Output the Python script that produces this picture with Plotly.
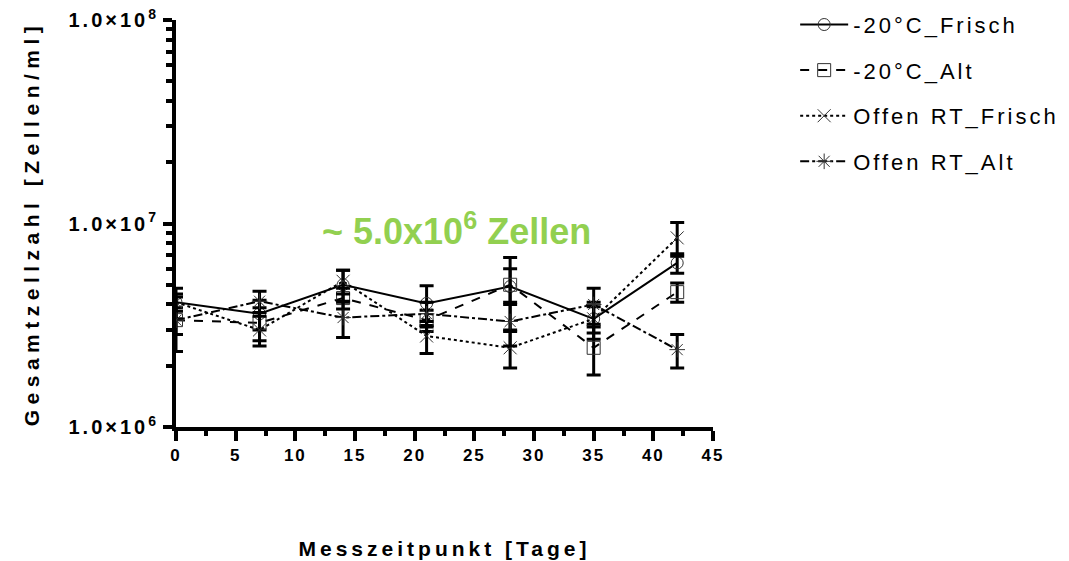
import plotly.graph_objects as go

days = [0, 7, 14, 21, 28, 35, 42]
names = ["-20°C_Frisch", "-20°C_Alt", "Offen RT_Frisch", "Offen RT_Alt"]
frisch20 = [4.1e6, 3.6e6, 5.0e6, 4.05e6, 4.9e6, 3.4e6, 6.4e6]
frisch20_sd = [0.7e6, 0.6e6, 0.9e6, 0.9e6, 1.9e6, 0.7e6, 0.7e6]
alt20 = [3.35e6, 3.25e6, 4.3e6, 3.35e6, 5.0e6, 2.45e6, 4.6e6]
alt20_sd = [0.5e6, 0.6e6, 0.5e6, 0.4e6, 1.0e6, 0.65e6, 0.5e6]
offen_frisch = [4.1e6, 3.0e6, 5.2e6, 2.8e6, 2.45e6, 3.4e6, 8.5e6]
offen_frisch_sd = [0.4e6, 0.5e6, 0.7e6, 0.5e6, 0.5e6, 0.5e6, 1.6e6]
offen_alt = [3.35e6, 4.15e6, 3.45e6, 3.6e6, 3.3e6, 4.0e6, 2.4e6]
offen_alt_sd = [1.0e6, 0.5e6, 0.7e6, 0.5e6, 0.8e6, 0.8e6, 0.45e6]

series = [frisch20, alt20, offen_frisch, offen_alt]
sds = [frisch20_sd, alt20_sd, offen_frisch_sd, offen_alt_sd]
dashes = ["solid", "dash", "dot", "dashdot"]
symbols = ["circle-open", "square-open", "x-thin-open", "asterisk-open"]
msizes = [12, 13, 13, 13]

y_ticks = [1e6, 1e7, 1e8]
y_ticktext = ["1.0×10<sup>6</sup>", "1.0×10<sup>7</sup>", "1.0×10<sup>8</sup>"]
x_ticks = [0, 5, 10, 15, 20, 25, 30, 35, 40, 45]

FONT = "Liberation Sans"

fig = go.Figure()
for i in range(4):
    fig.add_trace(go.Scatter(
        x=days, y=series[i], name=names[i], mode="lines+markers",
        legendgroup=str(i),
        line=dict(color="black", width=2, dash=dashes[i]),
        marker=dict(symbol=symbols[i], size=msizes[i], color="#333333",
                    line=dict(width=1, color="#333333")),
        error_y=dict(type="data", array=sds[i], color="black", thickness=3, width=7),
    ))

fig.add_annotation(
    x=23.5, y=6.975, xref="x", yref="y", text="<b>~ 5.0x10<sup>6</sup> Zellen</b>",
    showarrow=False, font=dict(family=FONT, size=36, color="#92D050"),
)

fig.update_layout(
    width=1069, height=561,
    margin=dict(l=176, r=356, t=20, b=134, autoexpand=False),
    plot_bgcolor="white", paper_bgcolor="white",
    font=dict(family=FONT, color="black"),
    legend=dict(x=1.153, y=1.04, xanchor="left", yanchor="top",
                font=dict(family=FONT, size=22, color="black"),
                tracegroupgap=14, itemwidth=48, bgcolor="rgba(0,0,0,0)"),
    xaxis=dict(range=[0, 45], tickvals=x_ticks, showgrid=False, zeroline=False,
               showline=True, linecolor="black", linewidth=4,
               ticks="outside", ticklen=10, tickwidth=3.5, tickcolor="black",
               tickfont=dict(family=FONT, size=17, color="black", weight="bold"),
               minor=dict(ticks="outside", ticklen=5, tickwidth=3.5, tickcolor="black", dtick=2.5),
               title=dict(text="Messzeitpunkt [Tage]", standoff=78,
                          font=dict(family=FONT, size=21, color="black", weight="bold"))),
    yaxis=dict(type="log", range=[6, 8], tickvals=y_ticks, ticktext=y_ticktext,
               showgrid=False, zeroline=False,
               showline=True, linecolor="black", linewidth=4,
               ticks="outside", ticklen=9, tickwidth=3.5, tickcolor="black",
               tickfont=dict(family=FONT, size=20, color="black", weight="bold"),
               minor=dict(ticks="outside", ticklen=6, tickwidth=3.5, tickcolor="black", dtick="D1"),
               title=dict(text="Gesamtzellzahl [Zellen/ml]", standoff=45,
                          font=dict(family=FONT, size=21, color="black", weight="bold"))),
)

post = """
function sp(sel, v){ document.querySelectorAll(sel).forEach(function(e){ e.style.letterSpacing = v; }); }
sp('.legendtext', '3px');
sp('.ytitle', '5.5px');
sp('.xtitle', '4px');
sp('.ytick text', '3px');
sp('.xtick text', '2px');
document.querySelectorAll('.legend .scrollbox, .legend').forEach(function(e){ e.removeAttribute('clip-path'); });
"""

fig.write_html("out.html", post_script=post)
